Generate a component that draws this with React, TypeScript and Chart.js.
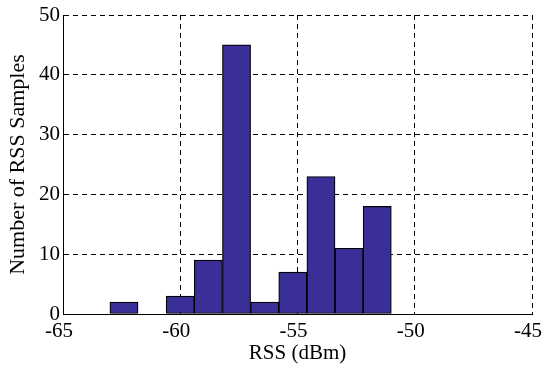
import React, { useEffect, useRef } from "react";
import { Chart, registerables } from "chart.js";

Chart.register(...registerables);

// Histogram bin centres (dBm) and counts
const binCenters = [-62.4, -61.2, -60.0, -58.8, -57.6, -56.4, -55.2, -54.0, -52.8, -51.6];
const counts = [2, 0, 3, 9, 45, 2, 7, 23, 11, 18];
const xTicks = [-65, -60, -55, -50, -45];
const yTicks = [0, 10, 20, 30, 40, 50];

const FONT = "'Liberation Serif', 'Times New Roman', serif";

export default function App() {
  const ref = useRef<HTMLCanvasElement | null>(null);

  useEffect(() => {
    if (!ref.current) return;
    const chart = new Chart(ref.current, {
      type: "bar",
      data: {
        datasets: [
          {
            data: binCenters.map((x, i) => ({ x, y: counts[i] })),
            backgroundColor: "#3a2f96",
            borderColor: "#000",
            borderWidth: 1.2,
            borderSkipped: false,
            barPercentage: 1,
            categoryPercentage: 1,
          },
        ],
      },
      options: {
        animation: false,
        responsive: true,
        maintainAspectRatio: false,
        layout: { padding: { top: 15, right: 10, left: 0, bottom: 0 } },
        plugins: { legend: { display: false }, tooltip: { enabled: false } },
        scales: {
          x: {
            type: "linear",
            offset: false,
            min: xTicks[0],
            max: xTicks[xTicks.length - 1],
            afterBuildTicks: (s: any) => {
              s.ticks = xTicks.map((v) => ({ value: v }));
            },
            ticks: {
              color: "#000",
              font: { family: FONT, size: 21 },
              padding: 5,
              maxRotation: 0,
              labelOffset: -4,
            },
            grid: { color: "#000", lineWidth: 1, drawTicks: false, offset: false },
            border: { color: "#000", width: 1, dash: [5, 4] },
            title: {
              display: true,
              text: "RSS (dBm)",
              color: "#000",
              font: { family: FONT, size: 21 },
              padding: { top: 0, bottom: 2 },
            },
            afterFit: (s: any) => {
              s.height = 54;
              s.paddingLeft = 0;
              s.paddingRight = 0;
            },
          },
          y: {
            type: "linear",
            min: yTicks[0],
            max: yTicks[yTicks.length - 1],
            afterBuildTicks: (s: any) => {
              s.ticks = yTicks.map((v) => ({ value: v }));
            },
            ticks: {
              color: "#000",
              font: { family: FONT, size: 21 },
              padding: 3,
            },
            grid: { color: "#000", lineWidth: 1, drawTicks: false },
            border: { color: "#000", width: 1, dash: [5, 4] },
            title: {
              display: true,
              text: "Number of RSS Samples",
              color: "#000",
              font: { family: FONT, size: 22 },
              padding: { top: 5, bottom: 0 },
            },
            afterFit: (s: any) => {
              s.width = 63;
              s.paddingTop = 0;
              s.paddingBottom = 0;
            },
          },
        },
      },
    });
    return () => chart.destroy();
  }, []);

  return (
    <div style={{ position: "absolute", left: 0, top: 0, width: 542, height: 368, background: "#fff" }}>
      <canvas ref={ref} />
    </div>
  );
}
